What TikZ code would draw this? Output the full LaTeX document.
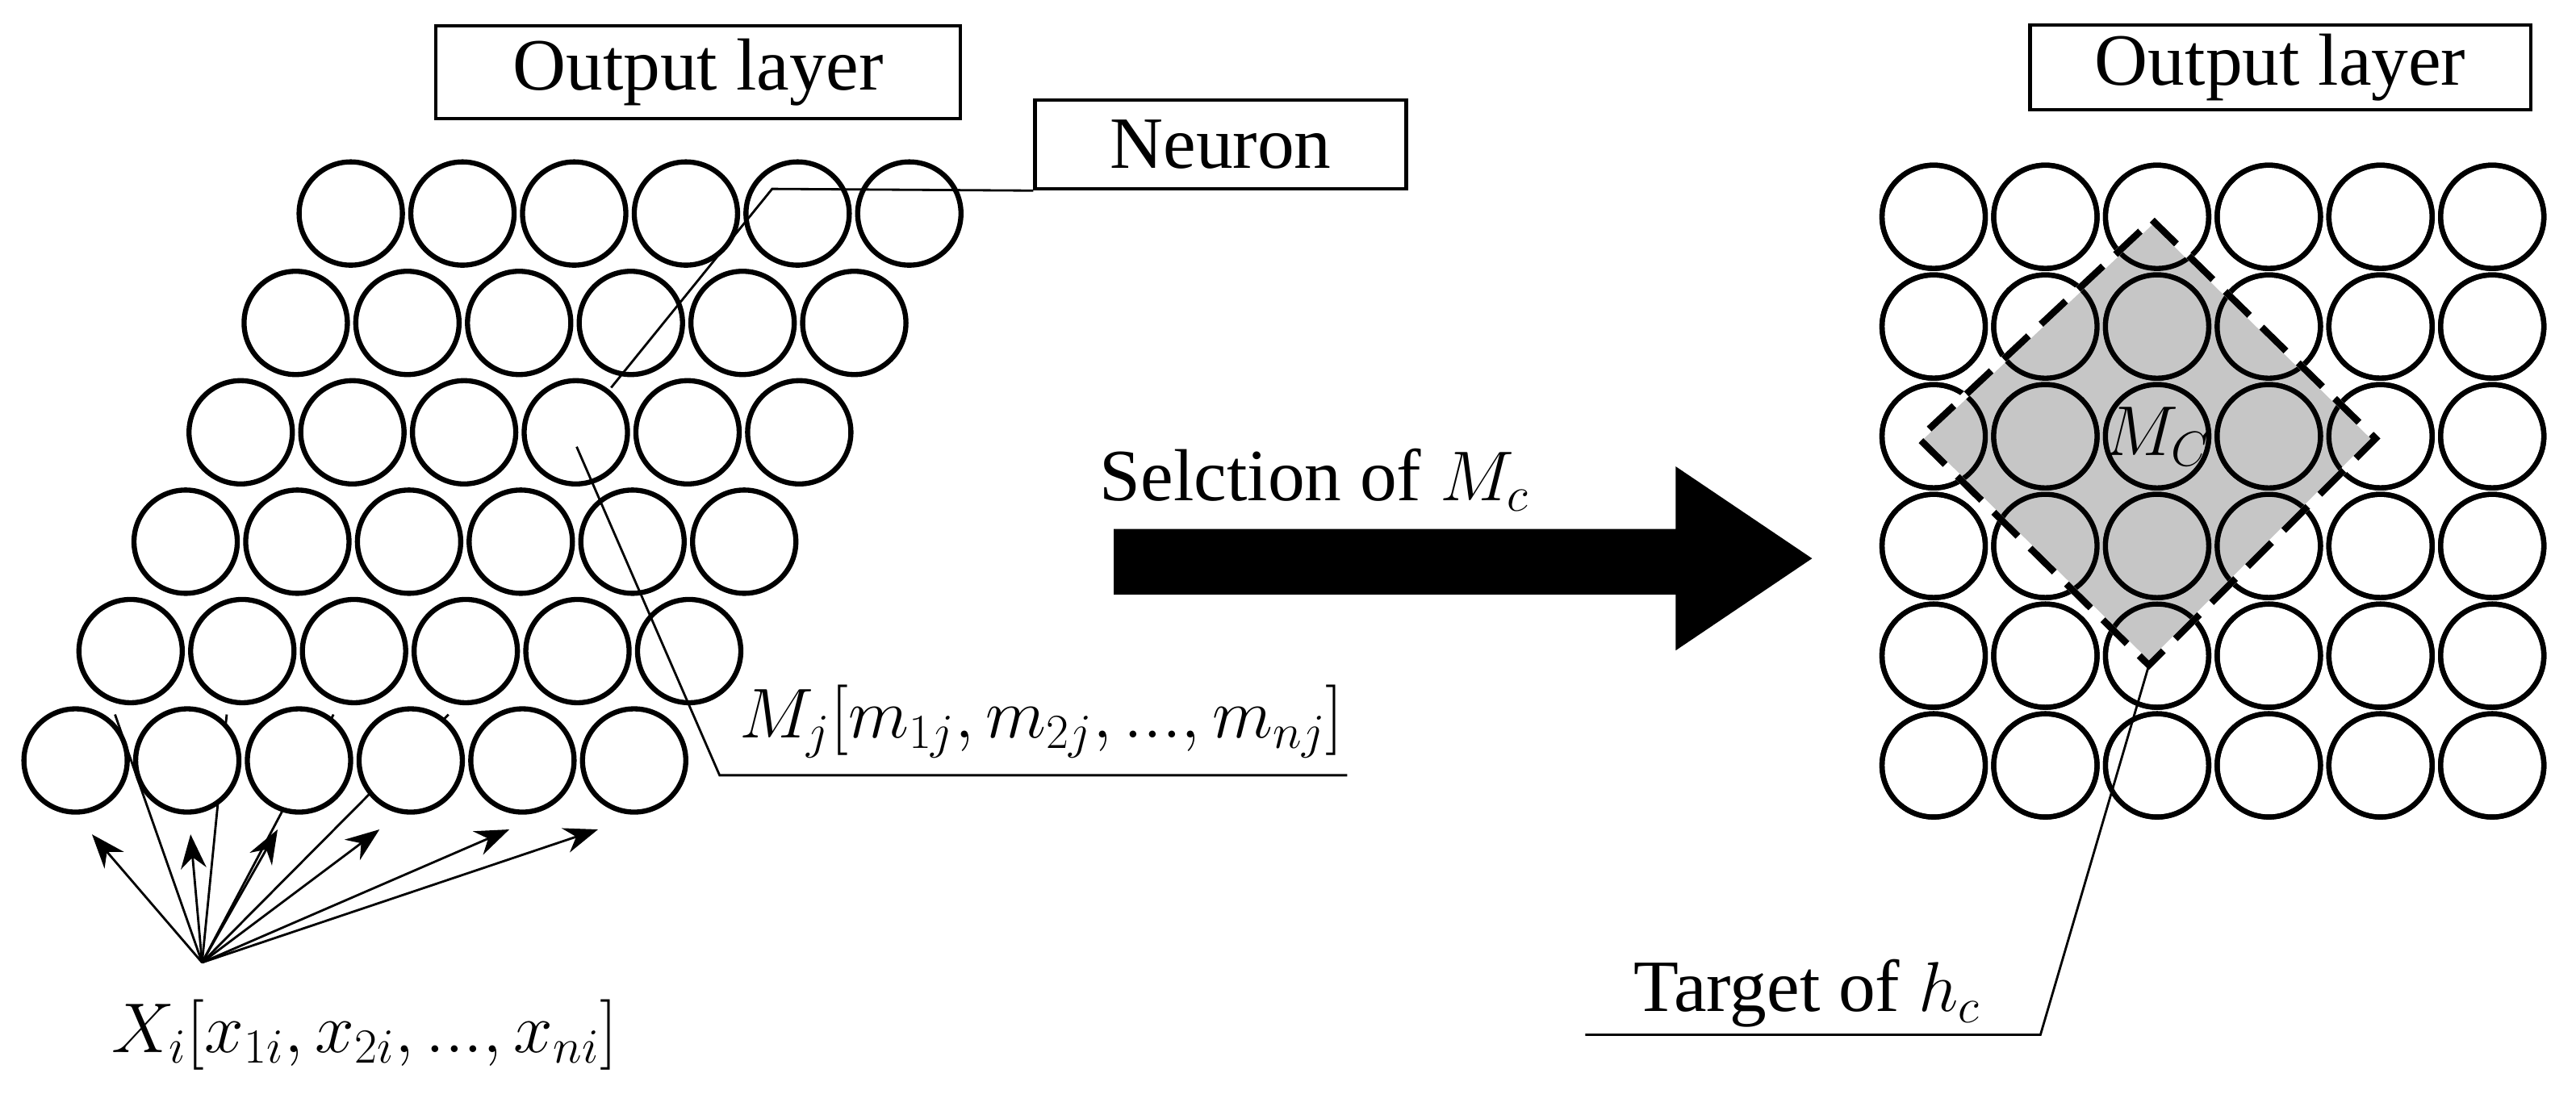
\documentclass[tikz,border=0pt]{standalone}
\usepackage{fontspec}
\setmainfont{Liberation Serif}
\usetikzlibrary{arrows.meta}
\tikzset{
    x=0.02036cm, y=-0.02036cm,
    neuron/.style={circle, draw, line width=1.8pt, fill=white, minimum size=1.28cm, inner sep=0pt},
    picked/.style={neuron, fill=gray!45},
    tag/.style={draw, line width=1.2pt, inner sep=3pt, font=\fontsize{26}{30}\selectfont},
    lbl/.style={font=\fontsize{26}{30}\selectfont, inner sep=0pt},
    thin/.style={line width=0.8pt},
}
\begin{document}
\begin{tikzpicture}
\useasboundingbox (0,0) rectangle (1568,676);
% input fan (drawn first, circles cover it)
\coordinate (xi) at (123,586);
\foreach \x in {70,138,203,273}
    \draw[thin] (xi) -- (\x,435);
% left map
\foreach \r in {0,...,5}
  \foreach \c in {0,...,5}
    \node[neuron] (L\r\c) at ({46+33.5*\r+68*\c},{463-66.6*\r}) {};
\foreach \x/\y in {56/508,116/508,169/505,231/505,310/505,364/505}
    \draw[thin, -{Stealth[length=12pt,width=9pt]}] (xi) -- (\x,\y);
\node[lbl] (xlab) at (222,630) {$X_i[x_{1i},x_{2i},...,x_{ni}]$};
\node[tag, minimum width=6.5cm, minimum height=1.15cm] (outL) at (425,44) {Output layer};
\node[tag, minimum width=4.6cm, minimum height=1.1cm] (neu) at (743,88) {Neuron};
\coordinate (n1) at (470,115);
\coordinate (n2) at (372,236);
\draw[thin] (neu.south west) -- (n1) -- (n2);
\coordinate (m1) at (351,272);
\coordinate (m2) at (438,472);
\coordinate (m3) at (820,472);
\draw[thin] (m1) -- (m2) -- (m3);
\node[lbl, anchor=south] (mlab) at (634,462) {$M_j[m_{1j},m_{2j},...,m_{nj}]$};
% arrow
\fill (678,322) -- (1020,322) -- (1020,284) -- (1103,340) -- (1020,396) -- (1020,362) -- (678,362) -- cycle;
\node[lbl] (sel) at (800,292) {Selction of $M_c$};
% right map
\foreach \r in {0,...,5}
  \foreach \c in {0,...,5}
    \node[neuron] (R\r\c) at ({1177+68*\c},{132+66.8*\r}) {};
\coordinate (dt) at (1310,134);
\coordinate (dr) at (1446,267);
\coordinate (db) at (1308,405);
\coordinate (dl) at (1168,267);
\fill[gray!45] (dt) -- (dr) -- (db) -- (dl) -- cycle;
\foreach \r in {0,...,5}
  \foreach \c in {0,...,5}
    \draw[line width=1.8pt] (R\r\c) circle (0.64cm);
\foreach \r/\c in {1/2,2/1,2/2,2/3,3/2}
    \node[picked] at (R\r\c) {};
\node[lbl] (mc) at (R22) {$M_C$};
\draw[white, line width=2.4pt] (dt) -- (dr) -- (db) -- (dl) -- cycle;
\draw[line width=2.4pt, dash pattern=on 12pt off 6pt] (dt) -- (dr) -- (db) -- (dl) -- cycle;
\node[tag, minimum width=6.2cm, minimum height=1.05cm] (outR) at (1388,41) {Output layer};
\node[lbl] (tgt) at (1100,605) {Target of $h_c$};
\coordinate (t1) at (965,630);
\coordinate (t2) at (1242,630);
\draw[thin] (t1) -- (t2) -- (db);
\end{tikzpicture}
\end{document}
